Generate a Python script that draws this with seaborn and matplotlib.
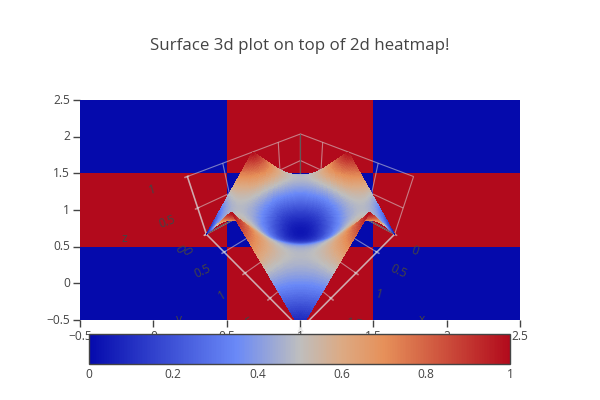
import numpy as np
import matplotlib
matplotlib.use("Agg")
import matplotlib.pyplot as plt
import matplotlib.tri as mtri
from matplotlib.colors import LinearSegmentedColormap
from matplotlib.transforms import Bbox
from mpl_toolkits.mplot3d import proj3d
import seaborn as sns

heat_z = [[0, 1, 0], [1, 0, 1], [0, 1, 0]]
axis_ticks = [-0.5, 0, 0.5, 1, 1.5, 2, 2.5]
axis_labels = ["\u22120.5", "0", "0.5", "1", "1.5", "2", "2.5"]
cbar_ticks = [0, 0.2, 0.4, 0.6, 0.8, 1]
cbar_labels = ["0", "0.2", "0.4", "0.6", "0.8", "1"]
scale_stops = [0, 0.35, 0.5, 0.6, 0.7, 1]
scale_colors = ["#050aac", "#6a89f7", "#bebebe", "#dcaa84", "#e6915a", "#b20a1c"]

surface_x = [0, 0.25, 0.5, 0.75, 1, 1.25, 1.5, 1.75, 2]
surface_y = [0, 0.25, 0.5, 0.75, 1, 1.25, 1.5, 1.75, 2]
surface_z = [
    [0.00, 0.25, 0.50, 0.75, 1.00, 0.75, 0.50, 0.25, 0.00],
    [0.25, 0.42, 0.52, 0.57, 0.56, 0.57, 0.52, 0.42, 0.25],
    [0.50, 0.52, 0.47, 0.35, 0.25, 0.35, 0.47, 0.52, 0.50],
    [0.75, 0.57, 0.35, 0.16, 0.06, 0.16, 0.35, 0.57, 0.75],
    [1.00, 0.56, 0.25, 0.06, 0.00, 0.06, 0.25, 0.56, 1.00],
    [0.75, 0.57, 0.35, 0.16, 0.06, 0.16, 0.35, 0.57, 0.75],
    [0.50, 0.52, 0.47, 0.35, 0.25, 0.35, 0.47, 0.52, 0.50],
    [0.25, 0.42, 0.52, 0.57, 0.56, 0.57, 0.52, 0.42, 0.25],
    [0.00, 0.25, 0.50, 0.75, 1.00, 0.75, 0.50, 0.25, 0.00],
]
scene_ticks = [0, 0.5, 1, 1.5, 2]
scene_tick_labels = ["0", "0.5", "1", "1.5", "2"]
z_ticks = [0, 0.5, 1]
z_tick_labels = ["0", "0.5", "1"]

sns.set_theme(style="white")
plt.rcParams["font.family"] = ["Open Sans", "DejaVu Sans"]
INK = "#444444"
W, H = 600, 400
fig = plt.figure(figsize=(6, 4), dpi=100)

def rect(l, t, r, b):
    return [l / W, 1 - b / H, (r - l) / W, (b - t) / H]

cmap = LinearSegmentedColormap.from_list("rdbu", list(zip(scale_stops, scale_colors)))

ax = fig.add_axes(rect(80, 100, 520, 320))
cax = fig.add_axes(rect(89, 334, 510, 364), zorder=5)
cax.patch.set_facecolor("white")
sns.heatmap(np.array(heat_z), ax=ax, cmap=cmap, vmin=0, vmax=1, cbar_ax=cax,
            cbar_kws={"orientation": "horizontal", "ticks": cbar_ticks})
ax.invert_yaxis()
ax.set_xticks(np.array(axis_ticks) + 0.5, axis_labels, rotation=0)
ax.set_yticks(np.array(axis_ticks) + 0.5, axis_labels, rotation=0)
ax.tick_params(axis="both", length=5, width=1, color=INK, labelcolor=INK, labelsize=8.64,
               pad=2, bottom=True, left=True)
cax.set_xticks(cbar_ticks, cbar_labels)
cax.tick_params(axis="x", length=0, labelcolor=INK, labelsize=8.64, pad=3)
cbar = ax.collections[0].colorbar
cbar.outline.set_visible(True)
cbar.outline.set_edgecolor(INK)
cbar.outline.set_linewidth(1)
fig.text(300 / W, 1 - 45.5 / H, "Surface 3d plot on top of 2d heatmap!", ha="center", va="center",
         color=INK, fontsize=12.15)

# 3D scene
s3 = fig.add_axes(rect(77.5, 101, 517.5, 321), projection="3d", zorder=3, facecolor="none")
s3.patch.set_alpha(0)
s3.computed_zorder = False
s3.view_init(elev=38, azim=45)
s3.set_proj_type("persp", focal_length=0.205)
s3._dist = 10.4
s3.set_box_aspect((1, 1, 0.5), zoom=1.0)
s3.set_xlim(0, 2); s3.set_ylim(0, 2); s3.set_zlim(0, 1)
clip = Bbox([[80, 80], [520, 300]])

# resample the read-off table onto a fine drawing mesh, softening facet creases
gx = np.linspace(0, 2, 121)
gy = np.linspace(0, 2, 121)
zarr = np.array(surface_z)
rows = np.array([np.interp(gx, surface_x, r) for r in zarr])
fine = np.array([np.interp(gy, surface_y, c) for c in rows.T]).T
kernel = np.ones(15) / 15
pad = np.pad(fine, 7, mode="edge")
soft = np.apply_along_axis(lambda m: np.convolve(m, kernel, mode="valid"), 0, pad)
soft = np.apply_along_axis(lambda m: np.convolve(m, kernel, mode="valid"), 1, soft)
XX, YY = np.meshgrid(gx, gy, indexing="ij")
edge = np.minimum.reduce([XX, YY, 2 - XX, 2 - YY])
w = np.clip(edge / 0.25, 0, 1)
fine = w * soft + (1 - w) * fine

n = len(gx)
idx = np.arange(n * n).reshape(n, n)
a_, b_, c_, d_ = idx[:-1, :-1].ravel(), idx[1:, :-1].ravel(), idx[:-1, 1:].ravel(), idx[1:, 1:].ravel()
tris = np.vstack([np.c_[a_, b_, c_], np.c_[b_, d_, c_]])
tri = mtri.Triangulation(XX.ravel(), YY.ravel(), tris)
surf = s3.plot_trisurf(tri, fine.ravel(), cmap=cmap, vmin=0, vmax=1, linewidth=0, antialiased=False,
                       shade=False, zorder=3)
surf.set_clip_box(clip); surf.set_clip_on(True)

GRID = (0.85, 0.85, 0.85, 0.55)
for a, ticks in ((s3.xaxis, scene_ticks), (s3.yaxis, scene_ticks), (s3.zaxis, z_ticks)):
    a.set_ticks(ticks)
    a.set_ticklabels([])
    a.set_pane_color((1, 1, 1, 0))
    a.pane.set_edgecolor(GRID)
    a.line.set_color(GRID)
    a._axinfo["grid"]["color"] = GRID
    a._axinfo["grid"]["linewidth"] = 0.8
    a._axinfo["tick"]["color"] = GRID
    a.gridlines.set_clip_box(clip); a.gridlines.set_clip_on(True)
    a.line.set_clip_box(clip); a.line.set_clip_on(True)
s3.tick_params(axis="both", color=GRID)

# dark zero lines along the back of the scene, behind the surface
s3.plot([0, 2], [0, 0], [0, 0], color=INK, lw=0.8, alpha=0.8, zorder=1)
s3.plot([0, 0], [0, 2], [0, 0], color=INK, lw=0.8, alpha=0.8, zorder=1)
s3.plot([0, 0], [0, 0], [0, 1], color=INK, lw=0.8, alpha=0.8, zorder=1)

fig.canvas.draw()
def lab(x, y, z, s, rot):
    px, py, _ = proj3d.proj_transform(x, y, z, s3.get_proj())
    dx, dy = s3.transData.transform((px, py))
    t = fig.text(dx / W, dy / H, s, color=INK, fontsize=8.64, ha="center", va="center", rotation=rot, zorder=4)
    t.set_clip_box(clip); t.set_clip_on(True)

x_rot = [-20, -25, -15, -10, 0]
y_rot = [-60, 25, 30, 30, 0]
for v, s, r in zip(scene_ticks[:4], scene_tick_labels[:4], x_rot):
    lab(v, 2.35, -0.1, s, r)
for v, s, r in zip(scene_ticks[:4], scene_tick_labels[:4], y_rot):
    lab(2.35, v, -0.1, s, r)
for v, s, r in zip(z_ticks, z_tick_labels, [-60, 20, 15]):
    lab(2.42, 0, v, s, r)
lab(1.0, 2.85, 0, "x", 0)
lab(2.85, 1.0, 0, "y", 0)
lab(2.9, -0.5, 0.2, "z", 0)

fig.savefig("out.png", dpi=100)
